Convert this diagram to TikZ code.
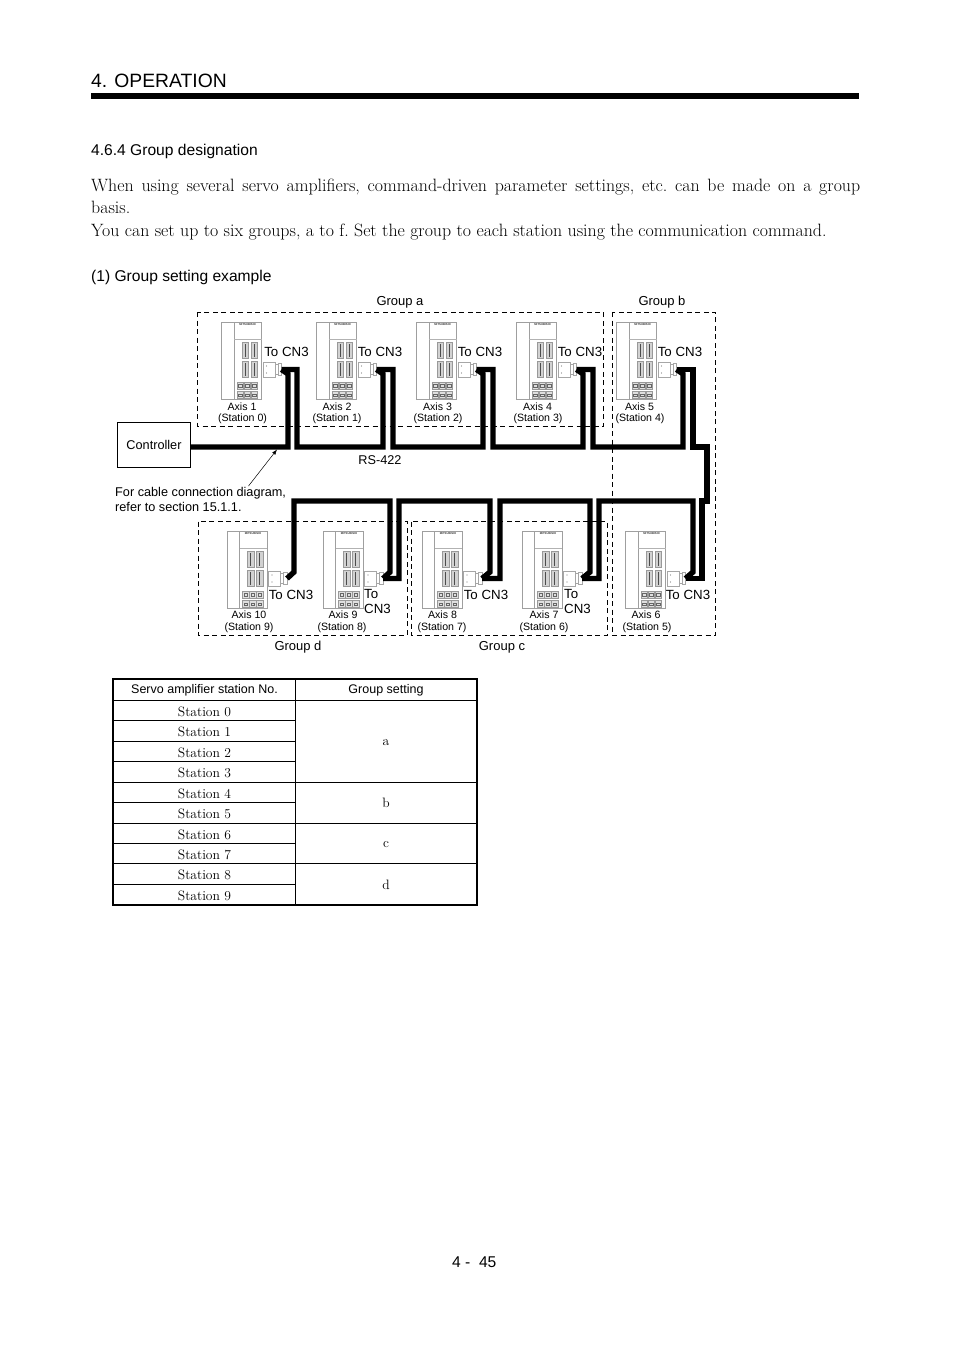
\documentclass[tikz,border=0pt]{standalone}
\usepackage{fontspec}
\usepackage{tikz}
\usetikzlibrary{arrows.meta,positioning}
\newfontfamily\arialfont{Liberation Sans}
\tikzset{
  lab/.style={inner sep=0pt,font=\arialfont\fontsize{12.7}{14.5}\selectfont},
  grouplab/.style={inner sep=0pt,font=\arialfont\fontsize{13}{15}\selectfont},
  tolab/.style={inner sep=0pt,font=\arialfont\fontsize{13.3}{15}\selectfont},
  smalllab/.style={inner sep=0pt,font=\arialfont\fontsize{10.6}{12}\selectfont},
  headlab/.style={inner sep=0pt,anchor=west,font=\arialfont\fontsize{15.6}{18}\selectfont},
  cell/.style={inner sep=0pt,font=\fontsize{13.6}{15}\selectfont},
  cable/.style={line width=5.4pt,miter limit=10},
  groupbox/.style={line width=0.8pt,dash pattern=on 5pt off 3.5pt},
  plugbox/.style={draw=gray!70,fill=white,line width=0.6pt,minimum width=12pt,minimum height=15pt,inner sep=0pt},
  servoamp/.pic={
    \draw[gray!75,fill=white,line width=0.8pt] (0,0) rectangle (40,77);
    \draw[gray!75,line width=0.6pt] (12.5,0) -- (12.5,77);
    \draw[gray!60,line width=0.9pt] (12.5,17.5) -- (40,17.5);
    \node[inner sep=0pt,font=\arialfont\bfseries\fontsize{2.8}{3}\selectfont,text=black!80] (-brand) at (26,2.6) {MITSUBISHI};
    \foreach \sx in {20.5,29.5} {
      \foreach \sy in {20,39} {
        \draw[gray!80,fill=gray!35,line width=0.7pt] (\sx,\sy) rectangle ++(6.5,16.5);
        \draw[black!70,line width=1.2pt] (\sx+3.2,\sy+2) -- ++(0,12.5);
      }
    }
    \foreach \tx in {15.5,22.5,29.5} {
      \foreach \ty in {60,69.5} {
        \draw[gray!80,fill=gray!25,line width=0.5pt] (\tx,\ty) rectangle ++(6.5,7);
        \draw[black!60,line width=0.5pt] (\tx+1.5,\ty+2.5) rectangle ++(3.5,2.5);
      }
    }
    \node[plugbox] (-body) at (47.5,47.5) {};
    \fill[gray] (45,44) circle (0.6) (45,51) circle (0.6);
    \draw[gray!70,fill=white,line width=0.6pt] (53.5,42.5) rectangle (56.5,52.5);
    \draw[gray!70,fill=white,line width=0.6pt] (56.5,41.5) rectangle (60,53.5);
    \coordinate (-plug) at (60,47.5);
  }
}
\begin{document}
\begin{tikzpicture}[x=1pt,y=-1pt,>=Latex]
    \useasboundingbox (0,0) rectangle (954,1350);
    \fill[white] (0,0) rectangle (954,1350);

    \node[inner sep=0pt,anchor=west,font=\arialfont\fontsize{19.3}{24}\selectfont] (title) at (91,80.5) {4. OPERATION};
    \fill (91,93) rectangle (859,98.5);
    \node[headlab] (section) at (91,151.5) {4.6.4 Group designation};
    \node[inner sep=0pt,anchor=north west,text width=769pt,align=justify,font=\frenchspacing\fontsize{17.85}{22.2}\selectfont] (para) at (91,179) {When using several servo amplifiers, command-driven parameter settings, etc. can be made on a group\linebreak basis.\\You can set up to six groups, a to f. Set the group to each station using the communication command.};
    \node[headlab] (example) at (91,277.5) {(1) Group setting example};
    \node[headlab] (pageno) at (452,1262) {4 -\ \ 45};

    \draw[groupbox] (197.5,312) rectangle (603.5,426);
    \draw[groupbox] (612,312) rectangle (715.5,635);
    \draw[groupbox] (198,521.5) rectangle (407,635);
    \draw[groupbox] (411,521.5) rectangle (607,635);

    \node[grouplab] (groupa) at (400,302.5) {Group a};
    \node[grouplab] (groupb) at (662,302.5) {Group b};
    \node[grouplab] (groupd) at (298,647.5) {Group d};
    \node[grouplab] (groupc) at (502,647.5) {Group c};

    \pic (ax1) at (221.5,322) {servoamp};
    \pic (ax2) at (316.5,322) {servoamp};
    \pic (ax3) at (416.5,322) {servoamp};
    \pic (ax4) at (516.5,322) {servoamp};
    \pic (ax5) at (616.5,322) {servoamp};
    \pic (ax10) at (227,531) {servoamp};
    \pic (ax9) at (323,531) {servoamp};
    \pic (ax8) at (422,531) {servoamp};
    \pic (ax7) at (522,531) {servoamp};
    \pic (ax6) at (625.5,531) {servoamp};

    \node[draw,fill=white,line width=0.7pt,minimum width=73.5pt,minimum height=45pt,inner sep=0pt,font=\arialfont\fontsize{12.7}{15}\selectfont] (ctrl) at (154,444.5) {Controller};
    \coordinate (ctrlout) at (190.7,447);

    \draw[cable] (ctrlout) -- (288,447) -- (288,374) -- (ax1-plug);
    \draw[cable] (ax1-plug) -- (297,369.5) -- (297,447) -- (383,447) -- (383,374) -- (ax2-plug);
    \draw[cable] (ax2-plug) -- (393,369.5) -- (393,447) -- (483,447) -- (483,374) -- (ax3-plug);
    \draw[cable] (ax3-plug) -- (493,369.5) -- (493,447) -- (583,447) -- (583,374) -- (ax4-plug);
    \draw[cable] (ax4-plug) -- (593,369.5) -- (593,447) -- (683,447) -- (683,374) -- (ax5-plug);
    \draw[cable] (ax5-plug) -- (693,369.5) -- (693,447) -- (707,447) -- (707,501) -- (702,501) -- (702,578.5) -- (ax6-plug);
    \draw[cable] (ax6-plug) -- (693,572) -- (693,501) -- (599,501) -- (599,578.5) -- (ax7-plug);
    \draw[cable] (ax7-plug) -- (590,572) -- (590,501) -- (500,501) -- (500,578.5) -- (ax8-plug);
    \draw[cable] (ax8-plug) -- (490,572) -- (490,501) -- (399,501) -- (399,578.5) -- (ax9-plug);
    \draw[cable] (ax9-plug) -- (390,572) -- (390,501) -- (294,501) -- (294,572) -- (ax10-plug);

    \node[lab] (rs) at (380,460.5) {RS-422};
    \node[lab,anchor=north west,align=left] (note) at (115,487.5) {For cable connection diagram,\\refer to section 15.1.1.};
    \coordinate (notetail) at (248.5,486);
    \coordinate (notetip) at (277,449.5);
    \draw[->,line width=0.5pt] (notetail) -- (notetip);

    \node[tolab] (to1) at (286.5,352) {To CN3};
    \node[tolab] (to2) at (380,352) {To CN3};
    \node[tolab] (to3) at (480,352) {To CN3};
    \node[tolab] (to4) at (580,352) {To CN3};
    \node[tolab] (to5) at (680,352) {To CN3};
    \node[tolab] (to10) at (291,595) {To CN3};
    \node[tolab,anchor=north west,align=left] (to9) at (364,589) {To\\CN3};
    \node[tolab] (to8) at (486,595) {To CN3};
    \node[tolab,anchor=north west,align=left] (to7) at (564,589) {To\\CN3};
    \node[tolab] (to6) at (688,595) {To CN3};

    \node[smalllab] (axis1) at (242,407) {Axis 1};
    \node[smalllab] (axis2) at (337,407) {Axis 2};
    \node[smalllab] (axis3) at (437.5,407) {Axis 3};
    \node[smalllab] (axis4) at (537.5,407) {Axis 4};
    \node[smalllab] (axis5) at (639.5,407) {Axis 5};
    \node[smalllab] (st0) at (242.5,419) {(Station 0)};
    \node[smalllab] (st1) at (337,419) {(Station 1)};
    \node[smalllab] (st2) at (438,419) {(Station 2)};
    \node[smalllab] (st3) at (538,419) {(Station 3)};
    \node[smalllab] (st4) at (640,419) {(Station 4)};

    \node[smalllab] (axis10) at (249,614.5) {Axis 10};
    \node[smalllab] (axis9) at (343,614.5) {Axis 9};
    \node[smalllab] (axis8) at (442.5,614.5) {Axis 8};
    \node[smalllab] (axis7) at (544,614.5) {Axis 7};
    \node[smalllab] (axis6) at (646,614.5) {Axis 6};
    \node[smalllab] (st9) at (249,627.5) {(Station 9)};
    \node[smalllab] (st8) at (342,627.5) {(Station 8)};
    \node[smalllab] (st7) at (442,627.5) {(Station 7)};
    \node[smalllab] (st6) at (544,627.5) {(Station 6)};
    \node[smalllab] (st5) at (647,627.5) {(Station 5)};

    \draw[line width=2pt] (113,678.5) rectangle (477,905);
    \draw[line width=1.6pt] (113,700.5) -- (477,700.5);
    \draw[line width=0.7pt] (295.5,678.5) -- (295.5,905);
    \draw[line width=0.7pt] (113,720.8) -- (295.5,720.8);
    \draw[line width=0.7pt] (113,741.2) -- (295.5,741.2);
    \draw[line width=0.7pt] (113,761.7) -- (295.5,761.7);
    \draw[line width=0.7pt] (113,782.3) -- (477,782.3);
    \draw[line width=0.7pt] (113,802.7) -- (295.5,802.7);
    \draw[line width=0.7pt] (113,823.3) -- (477,823.3);
    \draw[line width=0.7pt] (113,843.5) -- (295.5,843.5);
    \draw[line width=1.2pt] (113,863.8) -- (477,863.8);
    \draw[line width=0.7pt] (113,884.3) -- (295.5,884.3);

    \node[inner sep=0pt,font=\arialfont\fontsize{12.5}{15}\selectfont] (headst) at (204.5,690.5) {Servo amplifier station No.};
    \node[inner sep=0pt,font=\arialfont\fontsize{12.5}{15}\selectfont] (headgr) at (386,690.5) {Group setting};
    \node[cell] (row0) at (204.5,711.5) {Station 0};
    \node[cell] (row1) at (204.5,731.5) {Station 1};
    \node[cell] (row2) at (204.5,752.5) {Station 2};
    \node[cell] (row3) at (204.5,772.5) {Station 3};
    \node[cell] (row4) at (204.5,793.5) {Station 4};
    \node[cell] (row5) at (204.5,813.5) {Station 5};
    \node[cell] (row6) at (204.5,834.5) {Station 6};
    \node[cell] (row7) at (204.5,854.5) {Station 7};
    \node[cell] (row8) at (204.5,874.5) {Station 8};
    \node[cell] (row9) at (204.5,895.5) {Station 9};
    \node[cell] (seta) at (386,743) {a};
    \node[cell] (setb) at (386,803) {b};
    \node[cell] (setc) at (386,845) {c};
    \node[cell] (setd) at (386,885) {d};
\end{tikzpicture}
\end{document}
